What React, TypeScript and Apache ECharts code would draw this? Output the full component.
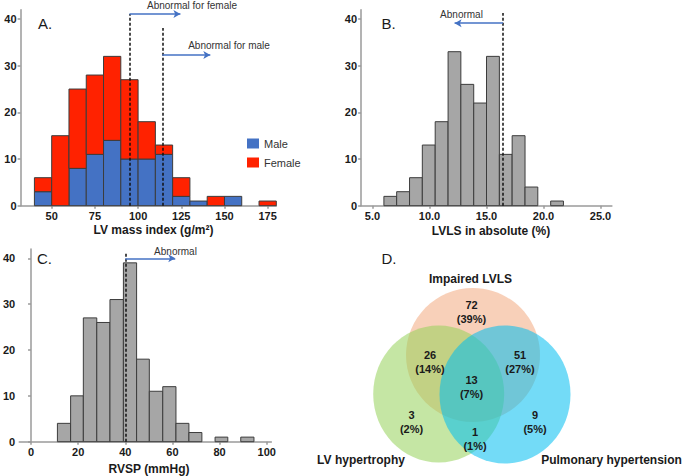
import React, { useEffect, useRef } from 'react';
import * as echarts from 'echarts';

// ---------- Data ----------
// Panel A: LV mass index histogram (bin start, width 10)
const lvmiBinStart = [40, 50, 60, 70, 80, 90, 100, 110, 120, 130, 140, 150, 160, 170];
const lvmiBinWidth = 10;
const maleCounts = [3, 0, 8, 11, 14, 10, 10, 11, 2, 1, 0, 2, 0, 0];
const femaleCounts = [3, 15, 17, 17, 18, 17, 8, 2, 4, 0, 2, 0, 0, 1];
const lvmiTicks = [50, 75, 100, 125, 150, 175];
const lvmiThresholds = [95, 114]; // female, male

// Panel B: LVLS histogram (bin edges)
const lvlsEdges = [6.0, 7.12, 8.25, 9.37, 10.5, 11.63, 12.75, 13.88, 15.0, 16.13, 17.25, 18.38, 19.5, 20.63, 21.75];
const lvlsCounts = [2, 3, 6, 13, 18, 33, 26, 22, 32, 11, 15, 4, 0, 1];
const lvlsTicks = [5, 10, 15, 20, 25];
const lvlsThreshold = 16.45;

// Panel C: RVSP histogram (bin edges)
const rvspEdges = [11.2, 16.8, 22.2, 27.9, 33.5, 39.2, 44.8, 50.2, 55.9, 61.5, 67.0, 72.5, 78.1, 83.5, 89.0, 94.6];
const rvspCounts = [4, 10, 27, 26, 31, 39, 18, 11, 12, 4, 2, 0, 1, 0, 1];
const rvspTicks = [0, 20, 40, 60, 80, 100];
const rvspThreshold = 40;

const countTicks = [0, 10, 20, 30, 40];

// Panel D: Venn
const vennSets = ['Impaired LVLS', 'LV hypertrophy', 'Pulmonary hypertension'];
const vennCounts = [72, 26, 51, 13, 3, 9, 1];
const vennPercents = ['39%', '14%', '27%', '7%', '2%', '5%', '1%'];

// ---------- Layout (not data) ----------
const FONT = '"Liberation Sans", Arial, sans-serif';
const vennRegionPos = [
  [471.5, 305], [430, 354.5], [520, 354.5], [471.5, 379.5], [411.5, 414.5], [535, 414.5], [475, 431.5],
];
const vennSetLabelPos = [[470.5, 278.5], [361, 460], [611.5, 460]];
const vennCircles = [
  { cx: 473, cy: 355, rx: 67, ry: 67, fill: 'rgba(240,150,100,0.45)' },
  { cx: 438.7, cy: 394, rx: 65.5, ry: 68.5, fill: 'rgba(150,210,90,0.55)' },
  { cx: 505, cy: 394.5, rx: 65.5, ry: 69, fill: 'rgba(0,190,240,0.55)' },
];

const AXIS_COLOR = '#9a9a9a';
const BAR_STROKE = '#3c3c3c';

function rectRenderer(fill: string) {
  return (params: any, api: any) => {
    const x0 = api.value(0);
    const x1 = api.value(1);
    const y0 = api.value(2);
    const y1 = api.value(3);
    const a = api.coord([x0, y1]);
    const b = api.coord([x1, y0]);
    return {
      type: 'rect',
      shape: { x: a[0], y: a[1], width: b[0] - a[0], height: b[1] - a[1] },
      style: { fill, stroke: BAR_STROKE, lineWidth: 1 },
    };
  };
}

function xAxisCfg(gridIndex: number, min: number, max: number, ticks: number[], fmt?: (v: number) => string) {
  return {
    type: 'value',
    gridIndex,
    min,
    max,
    axisLine: { show: true, onZero: false, lineStyle: { color: AXIS_COLOR, width: 1.5 } },
    axisTick: { show: true, length: 3, customValues: ticks, lineStyle: { color: AXIS_COLOR, width: 1.5 } },
    axisLabel: {
      customValues: ticks,
      formatter: fmt ? (v: number) => fmt(v) : (v: number) => String(v),
      fontFamily: FONT,
      fontSize: 11,
      fontWeight: 'bold',
      color: '#1a1a1a',
      margin: 5,
    },
    splitLine: { show: false },
  };
}

function yAxisCfg(gridIndex: number) {
  return {
    type: 'value',
    gridIndex,
    min: 0,
    max: 42,
    axisLine: { show: true, lineStyle: { color: AXIS_COLOR, width: 1.5 } },
    axisTick: { show: true, length: 3, customValues: countTicks, lineStyle: { color: AXIS_COLOR, width: 1.5 } },
    axisLabel: {
      customValues: countTicks,
      fontFamily: FONT,
      fontSize: 11,
      fontWeight: 'bold',
      color: '#1a1a1a',
      margin: 4,
    },
    splitLine: { show: false },
  };
}

function edgesToData(edges: number[], counts: number[]) {
  const out: number[][] = [];
  counts.forEach((c, i) => {
    if (c > 0) out.push([edges[i], edges[i + 1], 0, c]);
  });
  return out;
}

const dashStyle = { type: [3, 2] as any, color: '#111', width: 1.5 };
const arrowStyle = { type: 'solid' as any, color: '#4472C4', width: 1.5 };

function dashedSeries(xi: number, lines: number[][][]) {
  return {
    type: 'line',
    name: 'thr' + xi,
    xAxisIndex: xi,
    yAxisIndex: xi,
    data: [],
    z: 10,
    silent: true,
    markLine: {
      silent: true,
      symbol: ['none', 'none'],
      label: { show: false },
      lineStyle: dashStyle,
      emphasis: { disabled: true },
      data: lines.map((l) => [{ coord: l[0] }, { coord: l[1] }]),
    },
  };
}

function arrowSeries(xi: number, lines: number[][][]) {
  return {
    type: 'line',
    name: 'arr' + xi,
    xAxisIndex: xi,
    yAxisIndex: xi,
    data: [],
    z: 11,
    silent: true,
    markLine: {
      silent: true,
      symbol: ['none', 'arrow'],
      symbolSize: [6, 7],
      label: { show: false },
      lineStyle: arrowStyle,
      emphasis: { disabled: true },
      data: lines.map((l) => [{ coord: l[0] }, { coord: l[1] }]),
    },
  };
}

function txt(text: string, x: number, y: number, size: number, weight: string = 'normal', align: string = 'center', fill = '#1a1a1a') {
  return {
    type: 'text',
    x,
    y,
    z: 20,
    silent: true,
    style: { text, fontSize: size, fontWeight: weight, fontFamily: FONT, fill, align, verticalAlign: 'middle' },
  };
}

export default function App() {
  const ref = useRef<HTMLDivElement>(null);

  useEffect(() => {
    document.body.style.margin = '0';
    const chart = echarts.init(ref.current!, null, { renderer: 'svg' });

    const maleData: number[][] = [];
    const femaleData: number[][] = [];
    lvmiBinStart.forEach((s, i) => {
      const m = maleCounts[i];
      const f = femaleCounts[i];
      if (m > 0) maleData.push([s, s + lvmiBinWidth, 0, m]);
      if (f > 0) femaleData.push([s, s + lvmiBinWidth, m, m + f]);
    });

    const graphics: any[] = [];
    // Panel letters
    graphics.push(txt('A.', 38, 23.5, 15, 'normal', 'left'));
    graphics.push(txt('B.', 381.5, 23.5, 15, 'normal', 'left'));
    graphics.push(txt('C.', 37, 258.5, 15, 'normal', 'left'));
    graphics.push(txt('D.', 381.5, 258.5, 15, 'normal', 'left'));
    // Axis titles
    graphics.push(txt('LV mass index (g/m²)', 153.5, 230, 12, 'bold'));
    graphics.push(txt('LVLS in absolute (%)', 491, 230.5, 12, 'bold'));
    graphics.push(txt('RVSP (mmHg)', 149, 469, 12, 'bold'));
    // Annotation texts
    graphics.push(txt('Abnormal for female', 192, 5.5, 10, 'normal', 'center', '#333'));
    graphics.push(txt('Abnormal for male', 229, 45, 10, 'normal', 'center', '#333'));
    graphics.push(txt('Abnormal', 461.5, 14.5, 10, 'normal', 'center', '#333'));
    graphics.push(txt('Abnormal', 175.5, 251.5, 10, 'normal', 'center', '#333'));

    // Venn circles
    vennCircles.forEach((c, i) => {
      graphics.push({
        type: 'ellipse',
        z: 1 + i,
        silent: true,
        shape: { cx: c.cx, cy: c.cy, rx: c.rx, ry: c.ry },
        style: { fill: c.fill, stroke: 'none' },
      });
    });
    vennSets.forEach((s, i) => {
      graphics.push(txt(s, vennSetLabelPos[i][0], vennSetLabelPos[i][1], 12, 'bold'));
    });
    vennCounts.forEach((c, i) => {
      const [x, y] = vennRegionPos[i];
      graphics.push(txt(String(c), x, y, 11, 'bold'));
      graphics.push(txt('(' + vennPercents[i] + ')', x, y + 14, 11, 'bold'));
    });

    const option: any = {
      animation: false,
      textStyle: { fontFamily: FONT },
      grid: [
        { left: 20.6, top: 9.7, width: 255.7, height: 196 },
        { left: 361.1, top: 9.7, width: 250.8, height: 196 },
        { left: 19.2, top: 249.1, width: 252.2, height: 192.6 },
      ],
      xAxis: [
        xAxisCfg(0, 32, 180, lvmiTicks),
        xAxisCfg(1, 4, 26, lvlsTicks, (v) => v.toFixed(1)),
        xAxisCfg(2, -5, 102, rvspTicks),
      ],
      yAxis: [yAxisCfg(0), yAxisCfg(1), yAxisCfg(2)],
      legend: {
        data: ['Male', 'Female'],
        orient: 'vertical',
        left: 247,
        top: 138,
        icon: 'rect',
        itemWidth: 12,
        itemHeight: 10,
        itemGap: 8,
        padding: 0,
        selectedMode: false,
        textStyle: { fontFamily: FONT, fontSize: 11, color: '#333' },
      },
      series: [
        {
          type: 'custom',
          name: 'Male',
          xAxisIndex: 0,
          yAxisIndex: 0,
          itemStyle: { color: '#4472C4' },
          encode: { x: [0, 1], y: [2, 3] },
          renderItem: rectRenderer('#4472C4'),
          data: maleData,
          z: 2,
        },
        {
          type: 'custom',
          name: 'Female',
          xAxisIndex: 0,
          yAxisIndex: 0,
          itemStyle: { color: '#FF2200' },
          encode: { x: [0, 1], y: [2, 3] },
          renderItem: rectRenderer('#FF2200'),
          data: femaleData,
          z: 2,
        },
        {
          type: 'custom',
          name: 'LVLS',
          xAxisIndex: 1,
          yAxisIndex: 1,
          itemStyle: { color: '#a6a6a6' },
          encode: { x: [0, 1], y: [2, 3] },
          renderItem: rectRenderer('#a6a6a6'),
          data: edgesToData(lvlsEdges, lvlsCounts),
          z: 2,
        },
        {
          type: 'custom',
          name: 'RVSP',
          xAxisIndex: 2,
          yAxisIndex: 2,
          itemStyle: { color: '#a6a6a6' },
          encode: { x: [0, 1], y: [2, 3] },
          renderItem: rectRenderer('#a6a6a6'),
          data: edgesToData(rvspEdges, rvspCounts),
          z: 2,
        },
        dashedSeries(0, [
          [[lvmiThresholds[0], 0], [lvmiThresholds[0], 41.1]],
          [[lvmiThresholds[1], 0], [lvmiThresholds[1], 38.1]],
        ]),
        arrowSeries(0, [
          [[lvmiThresholds[0], 41.1], [124.5, 41.1]],
          [[lvmiThresholds[1], 32.3], [141.8, 32.3]],
        ]),
        dashedSeries(1, [[[lvlsThreshold, 0], [lvlsThreshold, 41.3]]]),
        arrowSeries(1, [[[lvlsThreshold, 39.1], [12.2, 39.1]]]),
        dashedSeries(2, [[[rvspThreshold, 0], [rvspThreshold, 41.4]]]),
        arrowSeries(2, [[[rvspThreshold, 40.0], [61.2, 40.0]]]),
      ],
      graphic: { elements: graphics },
    };

    chart.setOption(option);
    return () => chart.dispose();
  }, []);

  return <div ref={ref} style={{ width: 685, height: 476 }} />;
}
